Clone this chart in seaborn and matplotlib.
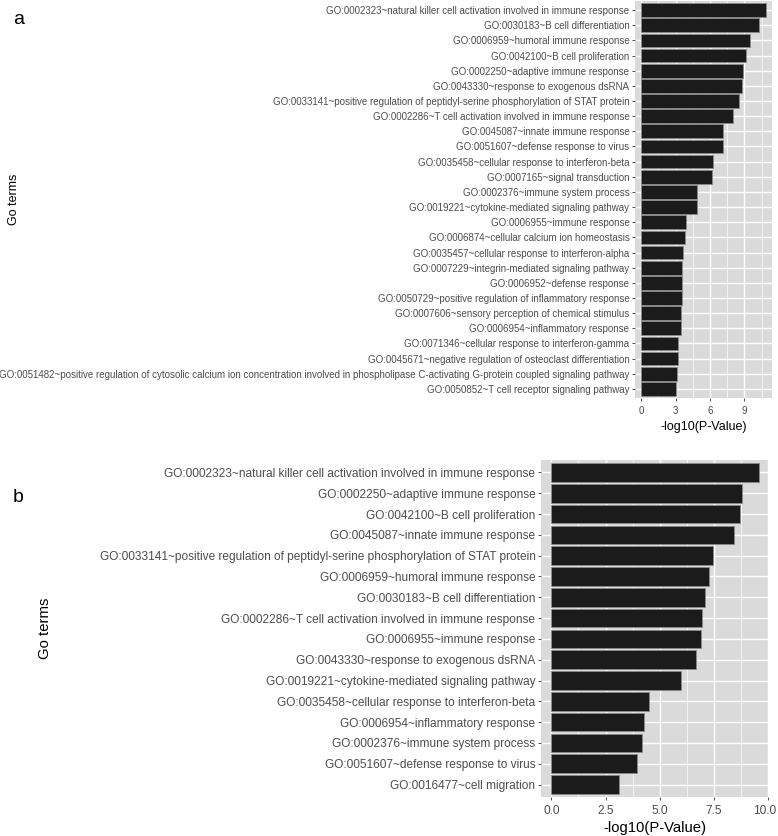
import matplotlib
matplotlib.use("Agg")
import matplotlib.pyplot as plt
import matplotlib.transforms as mtransforms
import seaborn as sns
import pandas as pd
from matplotlib.ticker import MultipleLocator

terms_a = [
    "GO:0002323~natural killer cell activation involved in immune response",
    "GO:0030183~B cell differentiation",
    "GO:0006959~humoral immune response",
    "GO:0042100~B cell proliferation",
    "GO:0002250~adaptive immune response",
    "GO:0043330~response to exogenous dsRNA",
    "GO:0033141~positive regulation of peptidyl-serine phosphorylation of STAT protein",
    "GO:0002286~T cell activation involved in immune response",
    "GO:0045087~innate immune response",
    "GO:0051607~defense response to virus",
    "GO:0035458~cellular response to interferon-beta",
    "GO:0007165~signal transduction",
    "GO:0002376~immune system process",
    "GO:0019221~cytokine-mediated signaling pathway",
    "GO:0006955~immune response",
    "GO:0006874~cellular calcium ion homeostasis",
    "GO:0035457~cellular response to interferon-alpha",
    "GO:0007229~integrin-mediated signaling pathway",
    "GO:0006952~defense response",
    "GO:0050729~positive regulation of inflammatory response",
    "GO:0007606~sensory perception of chemical stimulus",
    "GO:0006954~inflammatory response",
    "GO:0071346~cellular response to interferon-gamma",
    "GO:0045671~negative regulation of osteoclast differentiation",
    "GO:0051482~positive regulation of cytosolic calcium ion concentration involved in phospholipase C-activating G-protein coupled signaling pathway",
    "GO:0050852~T cell receptor signaling pathway",
]
values_a = [10.87, 10.31, 9.48, 9.10, 8.84, 8.75, 8.49, 8.00, 7.16, 7.10,
            6.26, 6.17, 4.87, 4.84, 3.88, 3.83, 3.68, 3.59, 3.59, 3.53,
            3.48, 3.48, 3.22, 3.22, 3.10, 3.04]

terms_b = [
    "GO:0002323~natural killer cell activation involved in immune response",
    "GO:0002250~adaptive immune response",
    "GO:0042100~B cell proliferation",
    "GO:0045087~innate immune response",
    "GO:0033141~positive regulation of peptidyl-serine phosphorylation of STAT protein",
    "GO:0006959~humoral immune response",
    "GO:0030183~B cell differentiation",
    "GO:0002286~T cell activation involved in immune response",
    "GO:0006955~immune response",
    "GO:0043330~response to exogenous dsRNA",
    "GO:0019221~cytokine-mediated signaling pathway",
    "GO:0035458~cellular response to interferon-beta",
    "GO:0006954~inflammatory response",
    "GO:0002376~immune system process",
    "GO:0051607~defense response to virus",
    "GO:0016477~cell migration",
]
values_b = [9.56, 8.78, 8.72, 8.41, 7.45, 7.25, 7.10, 6.93, 6.88, 6.66,
            5.97, 4.52, 4.29, 4.18, 3.97, 3.10]

ticks_a = [0, 3, 6, 9]
ticks_b = [0.0, 2.5, 5.0, 7.5, 10.0]
tick_labels_b = ["0.0", "2.5", "5.0", "7.5", "10.0"]

plt.rcParams['font.family'] = ['Liberation Sans', 'DejaVu Sans']

W, H = 778, 836
fig = plt.figure(figsize=(W / 100, H / 100), dpi=100)


def px_axes(x0, y0, x1, y1):
    return fig.add_axes([x0 / W, 1 - y1 / H, (x1 - x0) / W, (y1 - y0) / H])


def style(ax, terms, values, ticks, ticklabels, minor, label_fs, title_fs,
          ylab_x, xlim, xpad):
    df = pd.DataFrame({"term": terms, "val": values})
    sns.barplot(data=df, x="val", y="term", orient="h", ax=ax, color="#1b1b1b",
                width=0.9, edgecolor="#8a8a8a", linewidth=0.6, saturation=1, zorder=3)
    ax.set_facecolor("#dadada")
    for s in ax.spines.values():
        s.set_visible(False)
    ax.set_xlim(*xlim)
    ax.set_ylim(len(terms) - 0.4, -0.6)
    ax.set_xticks(ticks)
    ax.set_xticklabels(ticklabels)
    ax.xaxis.set_minor_locator(MultipleLocator(minor))
    ax.grid(True, which="major", axis="both", color="white", linewidth=1.0, zorder=0)
    ax.grid(True, which="minor", axis="x", color="white", linewidth=0.5, zorder=0)
    ax.set_axisbelow(True)
    ax.tick_params(axis="both", which="major", length=2.5, width=0.6, color="#333333",
                   labelcolor="#4d4d4d", labelsize=label_fs, pad=1.5)
    ax.tick_params(axis="x", which="major", pad=3)
    ax.tick_params(axis="x", which="minor", length=0)
    ax.set_xlabel("-log10(P-Value)", fontsize=title_fs, color="black", labelpad=xpad)
    ax.set_ylabel("Go terms", fontsize=title_fs, color="black")
    ax.yaxis.set_label_coords(ylab_x, 0.5)


ax1 = px_axes(635, 1, 772, 398)
style(ax1, terms_a, values_a, ticks_a, [str(t) for t in ticks_a], 1.5,
      7.0, 9.0, (20 - 635) / 137, (-0.54, 11.41), 4)

ax2 = px_axes(541, 460, 769, 797)
style(ax2, terms_b, values_b, ticks_b, tick_labels_b, 1.25,
      8.6, 10.7, (52 - 541) / 228, (-0.478, 10.04), 3)

# keep the last bottom tick label inside the canvas
last = ax2.get_xticklabels()[-1]
last.set_transform(last.get_transform() +
                   mtransforms.ScaledTranslation(-4 / 100, 0, fig.dpi_scale_trans))

fig.text(13 / W, 1 - 20 / H, "a", fontsize=14, va="center", ha="left")
fig.text(13 / W, 1 - 497 / H, "b", fontsize=14, va="center", ha="left")

fig.savefig("out.png", dpi=100)
